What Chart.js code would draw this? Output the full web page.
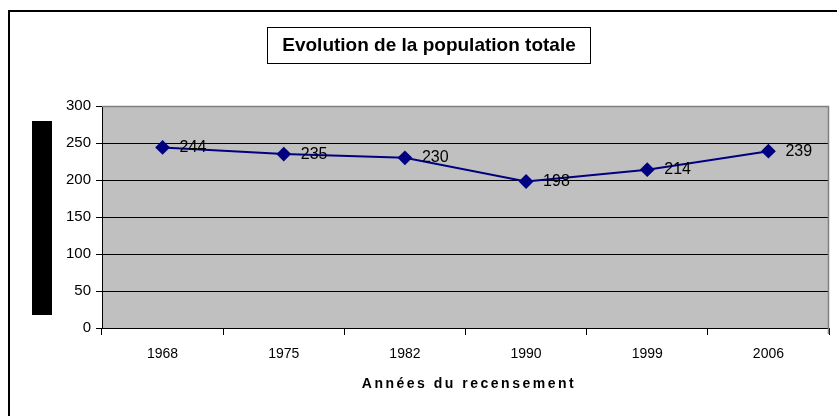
<!DOCTYPE html>
<html>
<head>
<meta charset="utf-8">
<script src="https://cdn.jsdelivr.net/npm/chart.js@4"></script>
<style>
html,body{margin:0;padding:0;background:#fff;}
#wrap{width:837px;height:416px;position:relative;}
</style>
</head>
<body>
<div id="wrap"><canvas id="c" width="837" height="416"></canvas></div>
<script>
const years = ['1968', '1975', '1982', '1990', '1999', '2006'];
const population = [244, 235, 230, 198, 214, 239];
const chartTitle = 'Evolution de la population totale';
const xTitle = 'Années du recensement';
const yMin = 0, yMax = 300, yStep = 50;

const FONT = '"Liberation Sans", Arial, sans-serif';

const frame = {
  id: 'frame',
  beforeDraw(chart) {
    const {ctx, chartArea: a} = chart;
    ctx.save();
    ctx.fillStyle = '#fff';
    ctx.fillRect(0, 0, chart.width, chart.height);
    ctx.strokeStyle = '#000';
    ctx.lineWidth = 2;
    ctx.strokeRect(9, 11, chart.width + 20, chart.height + 20);
    ctx.fillStyle = '#C0C0C0';
    ctx.fillRect(a.left, a.top, a.right - a.left, a.bottom - a.top);
    ctx.lineWidth = 1;
    ctx.strokeStyle = '#000';
    ctx.strokeRect(267.5, 27.5, 323, 36);
    ctx.fillStyle = '#000';
    ctx.font = 'bold 19px ' + FONT;
    ctx.textAlign = 'center';
    ctx.textBaseline = 'middle';
    ctx.fillText(chartTitle, 429, 46);
    ctx.fillRect(32, 121, 20, 194);
    ctx.font = 'bold 14px ' + FONT;
    ctx.letterSpacing = '2.5px';
    ctx.textAlign = 'center';
    ctx.fillText(xTitle, 469, 384);
    ctx.restore();
  },
  beforeDatasetsDraw(chart) {
    const {ctx, chartArea: a} = chart;
    ctx.save();
    ctx.strokeStyle = '#808080';
    ctx.lineWidth = 1.5;
    ctx.beginPath();
    ctx.moveTo(a.left, a.top + 0.5);
    ctx.lineTo(a.right - 0.5, a.top + 0.5);
    ctx.lineTo(a.right - 0.5, a.bottom + 6);
    ctx.stroke();
    ctx.restore();
  }
};

const labelsPlugin = {
  id: 'pointLabels',
  afterDatasetsDraw(chart) {
    const {ctx} = chart;
    const meta = chart.getDatasetMeta(0);
    ctx.save();
    ctx.fillStyle = '#000';
    ctx.font = '16px ' + FONT;
    ctx.textAlign = 'left';
    ctx.textBaseline = 'middle';
    meta.data.forEach((pt, i) => {
      ctx.fillText(String(population[i]), pt.x + 17, pt.y + 0);
    });
    ctx.restore();
  }
};

new Chart(document.getElementById('c'), {
  type: 'line',
  data: {
    labels: years,
    datasets: [{
      data: population,
      borderColor: '#000080',
      backgroundColor: '#000080',
      borderWidth: 2,
      pointStyle: 'rectRot',
      pointRadius: 6,
      pointHoverRadius: 6,
      tension: 0
    }]
  },
  options: {
    responsive: false,
    animation: false,
    events: [],
    layout: {padding: {left: 0, right: 5, top: 106, bottom: 0}},
    plugins: {legend: {display: false}, title: {display: false}, tooltip: {enabled: false}},
    scales: {
      x: {
        offset: true,
        grid: {offset: true, drawOnChartArea: false, color: '#000', tickLength: 7, tickColor: '#000'},
        border: {color: '#000', width: 1},
        ticks: {color: '#000', font: {family: FONT, size: 14}, padding: 11, maxRotation: 0},
        afterFit(s) { s.height = 88; }
      },
      y: {
        min: yMin, max: yMax,
        grid: {color: '#000', tickLength: 6, tickColor: '#000'},
        border: {color: '#000', width: 1},
        ticks: {stepSize: yStep, color: '#000', font: {family: FONT, size: 15}, padding: 5},
        afterFit(s) { s.width = 102; }
      }
    }
  },
  plugins: [frame, labelsPlugin]
});
</script>
</body>
</html>
